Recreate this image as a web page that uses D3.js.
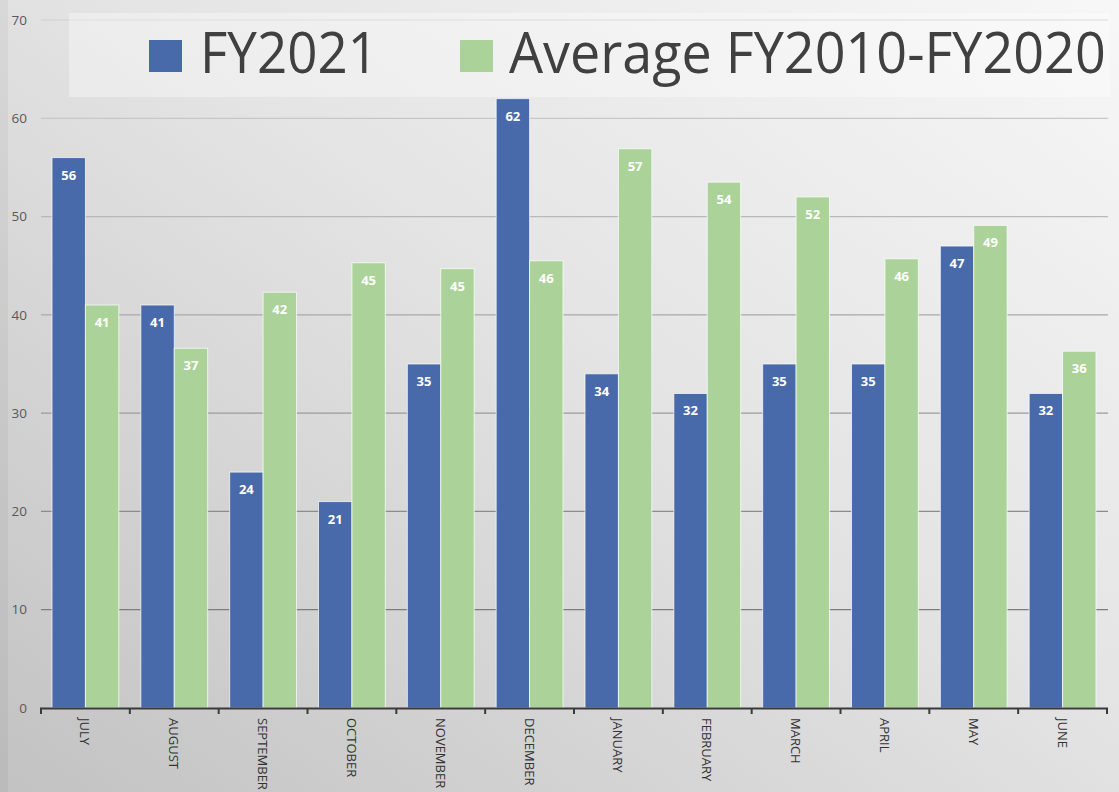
<!DOCTYPE html>
<html><head><meta charset="utf-8">
<script src="https://cdn.jsdelivr.net/npm/d3@7"></script>
<style>html,body{margin:0;padding:0;overflow:hidden;background:#ddd}</style>
</head><body>
<svg id="chart" width="1119" height="792"></svg>
<script>
const months = ["JULY","AUGUST","SEPTEMBER","OCTOBER","NOVEMBER","DECEMBER","JANUARY","FEBRUARY","MARCH","APRIL","MAY","JUNE"];
const seriesNames = ["FY2021","Average FY2010-FY2020"];
const fy2021 = [56,41,24,21,35,62,34,32,35,35,47,32];
const avg2010_2020 = [41,36.6,42.3,45.3,44.7,45.5,56.9,53.5,52,45.7,49.1,36.3];
const yTicks = [0,10,20,30,40,50,60,70];
const colors = ["#4869aa","#abd399"];

const svg = d3.select("#chart");
const W = 1119, H = 792;
const defs = svg.append("defs");
const bg = defs.append("linearGradient").attr("id","bg").attr("x1","100%").attr("y1","0%").attr("x2","0%").attr("y2","100%");
bg.append("stop").attr("offset","0%").attr("stop-color","#f7f7f7");
bg.append("stop").attr("offset","45%").attr("stop-color","#e4e4e4");
bg.append("stop").attr("offset","100%").attr("stop-color","#c2c2c2");
svg.append("rect").attr("width",W).attr("height",H).attr("fill","url(#bg)");
svg.append("rect").attr("x",0).attr("y",0).attr("width",8).attr("height",H).attr("fill","#000").attr("opacity",0.04);

const x0 = d3.scaleBand().domain(months).range([41,1107]).padding(0);
const x1 = d3.scaleBand().domain(seriesNames).range([0,x0.bandwidth()]).paddingInner(0).paddingOuter(0.33);
const y = d3.scaleLinear().domain([0,70]).range([708,20]);
const gridCol = d3.scaleLinear().domain([0,70]).range(["#6e6e6e","#d6d6d6"]);

// gridlines
svg.append("g").selectAll("line").data(yTicks.filter(t=>t>0)).join("line")
  .attr("x1",41).attr("x2",1108).attr("y1",d=>y(d)).attr("y2",d=>y(d))
  .attr("stroke",d=>gridCol(d)).attr("stroke-width",1.3);

// y labels
svg.append("g").selectAll("text").data(yTicks).join("text")
  .attr("x",27).attr("y",d=>y(d)).attr("dy","0.35em").attr("text-anchor","end")
  .attr("font-family","Open Sans, sans-serif").attr("font-size",13.5).attr("fill","#595959")
  .text(d=>d);

// legend
svg.append("rect").attr("x",69).attr("y",13).attr("width",1041).attr("height",84).attr("fill","#ffffff").attr("opacity",0.35);
const leg = [{name:seriesNames[0],sx:149,tx:200,tw:178,c:colors[0]},{name:seriesNames[1],sx:460,tx:509,tw:597,c:colors[1]}];
leg.forEach(l=>{
  svg.append("rect").attr("x",l.sx).attr("y",40).attr("width",33).attr("height",32).attr("fill",l.c);
  const t = svg.append("text").attr("x",0).attr("y",0).attr("font-family","Open Sans, sans-serif")
    .attr("font-size",57).attr("fill","#404040").text(l.name);
  const w = t.node().getComputedTextLength();
  t.attr("transform",`translate(${l.tx},73) scale(${l.tw/w},1)`);
});

// bars
const data = months.map((m,i)=>({m, vals:[fy2021[i],avg2010_2020[i]]}));
const groups = svg.append("g").selectAll("g").data(data).join("g").attr("transform",d=>`translate(${x0(d.m)},0)`);
groups.selectAll("rect").data(d=>d.vals.map((v,j)=>({v,s:seriesNames[j],j}))).join("rect")
  .attr("x",d=>x1(d.s)).attr("width",x1.bandwidth()).attr("y",d=>y(d.v)).attr("height",d=>y(0)-y(d.v))
  .attr("fill",d=>colors[d.j]).attr("stroke","#ffffff").attr("stroke-opacity",0.7).attr("stroke-width",1);
groups.selectAll("text").data(d=>d.vals.map((v,j)=>({v,s:seriesNames[j],j}))).join("text")
  .attr("x",d=>x1(d.s)+x1.bandwidth()/2).attr("y",d=>y(d.v)+22).attr("text-anchor","middle")
  .attr("font-family","Open Sans, sans-serif").attr("font-weight","bold").attr("font-size",13).attr("fill","#ffffff")
  .text(d=>Math.round(d.v));

// x axis
const xa = svg.append("g");
xa.append("line").attr("x1",40).attr("x2",1108).attr("y1",708.5).attr("y2",708.5).attr("stroke","#3a3a3a").attr("stroke-width",2);
const bounds = months.map(m=>x0(m)).concat([x0.range()[1]]);
xa.selectAll("line.t").data(bounds).join("line").attr("class","t")
  .attr("x1",d=>d).attr("x2",d=>d).attr("y1",708).attr("y2",714).attr("stroke","#3a3a3a").attr("stroke-width",2);
xa.selectAll("text").data(months).join("text")
  .attr("transform",d=>`translate(${x0(d)+x0.bandwidth()/2},718) rotate(90)`)
  .attr("dominant-baseline","central")
  .attr("font-family","Open Sans, sans-serif").attr("font-size",13).attr("fill","#333")
  .text(d=>d);
</script>
</body></html>
